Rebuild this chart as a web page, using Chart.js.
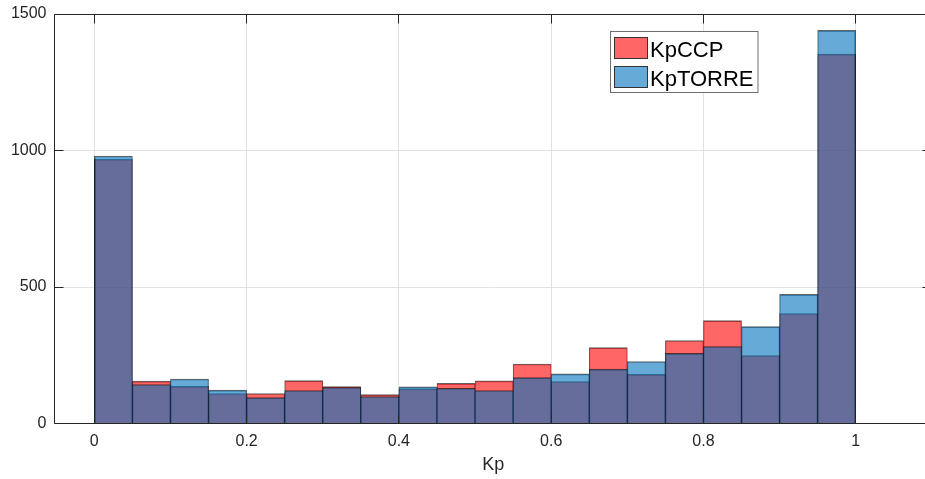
<!DOCTYPE html>
<html>
<head>
<meta charset="utf-8">
<title>Kp histogram</title>
<script src="https://cdn.jsdelivr.net/npm/chart.js@4/dist/chart.umd.min.js"></script>
<style>
  html, body { margin: 0; padding: 0; background: #fff; overflow: hidden; }
  #wrap { width: 925px; height: 479px; overflow: hidden; position: relative; }
  canvas { display: block; }
</style>
</head>
<body>
<div id="wrap"><canvas id="kpChart" width="940" height="479"></canvas></div>
<script>
// Histogram bins (width 0.05) given by their centres
const binCenters = [0.025, 0.075, 0.125, 0.175, 0.225, 0.275, 0.325, 0.375, 0.425, 0.475,
                    0.525, 0.575, 0.625, 0.675, 0.725, 0.775, 0.825, 0.875, 0.925, 0.975];

// Counts per bin
const kpCCP   = [968, 155, 136, 110, 110, 157, 135, 106, 127, 147,
                 156, 218, 154, 278, 180, 304, 377, 249, 403, 1353];
const kpTORRE = [980, 143, 163, 122,  95, 121, 132,  99, 134, 129,
                 121, 168, 182, 199, 227, 257, 282, 355, 473, 1440];

const seriesNames = ['KpCCP', 'KpTORRE'];
const xTickValues = [0, 0.2, 0.4, 0.6, 0.8, 1];
const yTickValues = [0, 500, 1000, 1500];
const xLimits = [-0.0523, 1.1];
const yLimits = [0, 1500];
const xLabel = 'Kp';

const FONT = '"Liberation Sans", Arial, Helvetica, sans-serif';
const INK = '#262626';
const redFace = 'rgba(255, 0, 0, 0.6)';
const blueFace = 'rgba(0, 114, 189, 0.6)';
const edge = 'rgba(0, 0, 0, 0.62)';

// Edges: half-pixel on shared sides so neighbouring bins show one line
function edgeWidths(ctx) {
  const last = binCenters.length - 1;
  return {
    top: 1,
    bottom: 0,
    left: ctx.dataIndex === 0 ? 1 : 0.5,
    right: ctx.dataIndex === last ? 1 : 0.5
  };
}

function toPoints(values) {
  return binCenters.map((c, i) => ({ x: c, y: values[i] }));
}

// Axis lines with inward tick marks, plus the boxed legend
const axesAndLegend = {
  id: 'axesAndLegend',
  afterDatasetsDraw(chart) {
    const { ctx, chartArea: a, scales: { x, y } } = chart;
    const al = v => Math.floor(v) + 0.5;
    const L = al(a.left), R = al(a.right), T = al(a.top), B = al(a.bottom);
    const tick = 9;
    ctx.save();
    ctx.strokeStyle = INK;
    ctx.lineWidth = 1;
    ctx.beginPath();
    ctx.moveTo(R, T); ctx.lineTo(L, T); ctx.lineTo(L, B); ctx.lineTo(R, B);
    xTickValues.forEach(v => {
      const px = al(x.getPixelForValue(v));
      ctx.moveTo(px, T); ctx.lineTo(px, T + tick);
      ctx.moveTo(px, B); ctx.lineTo(px, B - tick);
    });
    yTickValues.forEach(v => {
      const py = al(y.getPixelForValue(v));
      ctx.moveTo(L, py); ctx.lineTo(L + tick, py);
      ctx.moveTo(R, py); ctx.lineTo(R - tick, py);
    });
    ctx.stroke();

    // legend
    const bx = 610.5, by = 31.5, bw = 147.5, bh = 61;
    ctx.fillStyle = '#ffffff';
    ctx.fillRect(bx, by, bw, bh);
    ctx.strokeStyle = '#6e6e6e';
    ctx.strokeRect(bx, by, bw, bh);
    const swatches = ['#ff6666', '#66aad7'];
    ctx.font = '22px ' + FONT;
    ctx.textAlign = 'left';
    ctx.textBaseline = 'alphabetic';
    seriesNames.forEach((name, i) => {
      const sy = 37.5 + i * 29;
      ctx.fillStyle = swatches[i];
      ctx.fillRect(614.5, sy, 33, 21);
      ctx.strokeStyle = '#333333';
      ctx.strokeRect(614.5, sy, 33, 21);
      ctx.fillStyle = '#000000';
      ctx.fillText(name, 650, 56.5 + i * 29);
    });
    ctx.restore();
  }
};

new Chart(document.getElementById('kpChart'), {
  type: 'bar',
  data: {
    datasets: [
      {
        label: seriesNames[0],
        data: toPoints(kpCCP),
        backgroundColor: redFace,
        borderColor: edge,
        borderWidth: edgeWidths,
        borderSkipped: false,
        grouped: false,
        barPercentage: 1,
        categoryPercentage: 1,
        order: 2
      },
      {
        label: seriesNames[1],
        data: toPoints(kpTORRE),
        backgroundColor: blueFace,
        borderColor: edge,
        borderWidth: edgeWidths,
        borderSkipped: false,
        grouped: false,
        barPercentage: 1,
        categoryPercentage: 1,
        order: 1
      }
    ]
  },
  options: {
    responsive: false,
    animation: false,
    devicePixelRatio: 1,
    layout: { padding: { top: 14, right: 8.1, left: 0, bottom: 0 } },
    plugins: {
      legend: { display: false },
      tooltip: { enabled: false }
    },
    scales: {
      x: {
        type: 'linear',
        min: xLimits[0],
        max: xLimits[1],
        offset: false,
        afterBuildTicks: s => { s.ticks = xTickValues.map(v => ({ value: v })); },
        afterFit: s => { s.height = 55.5; s.paddingLeft = 0; s.paddingRight = 0; },
        grid: { offset: false, color: '#e2e2e2', drawTicks: false },
        border: { display: false },
        ticks: {
          padding: 8.6,
          color: INK,
          font: { family: FONT, size: 16 },
          maxRotation: 0,
          autoSkip: false,
          callback: v => String(v)
        },
        title: {
          display: true,
          text: xLabel,
          color: INK,
          font: { family: FONT, size: 18 },
          padding: { top: 0, bottom: 3 }
        }
      },
      y: {
        type: 'linear',
        min: yLimits[0],
        max: yLimits[1],
        afterBuildTicks: s => { s.ticks = yTickValues.map(v => ({ value: v })); },
        afterFit: s => { s.width = 54.5; s.paddingTop = 0; s.paddingBottom = 0; },
        grid: { color: '#e2e2e2', drawTicks: false },
        border: { display: false },
        ticks: {
          padding: 8,
          color: INK,
          font: { family: FONT, size: 16 },
          autoSkip: false,
          callback: v => String(v)
        }
      }
    }
  },
  plugins: [axesAndLegend]
});
</script>
</body>
</html>
